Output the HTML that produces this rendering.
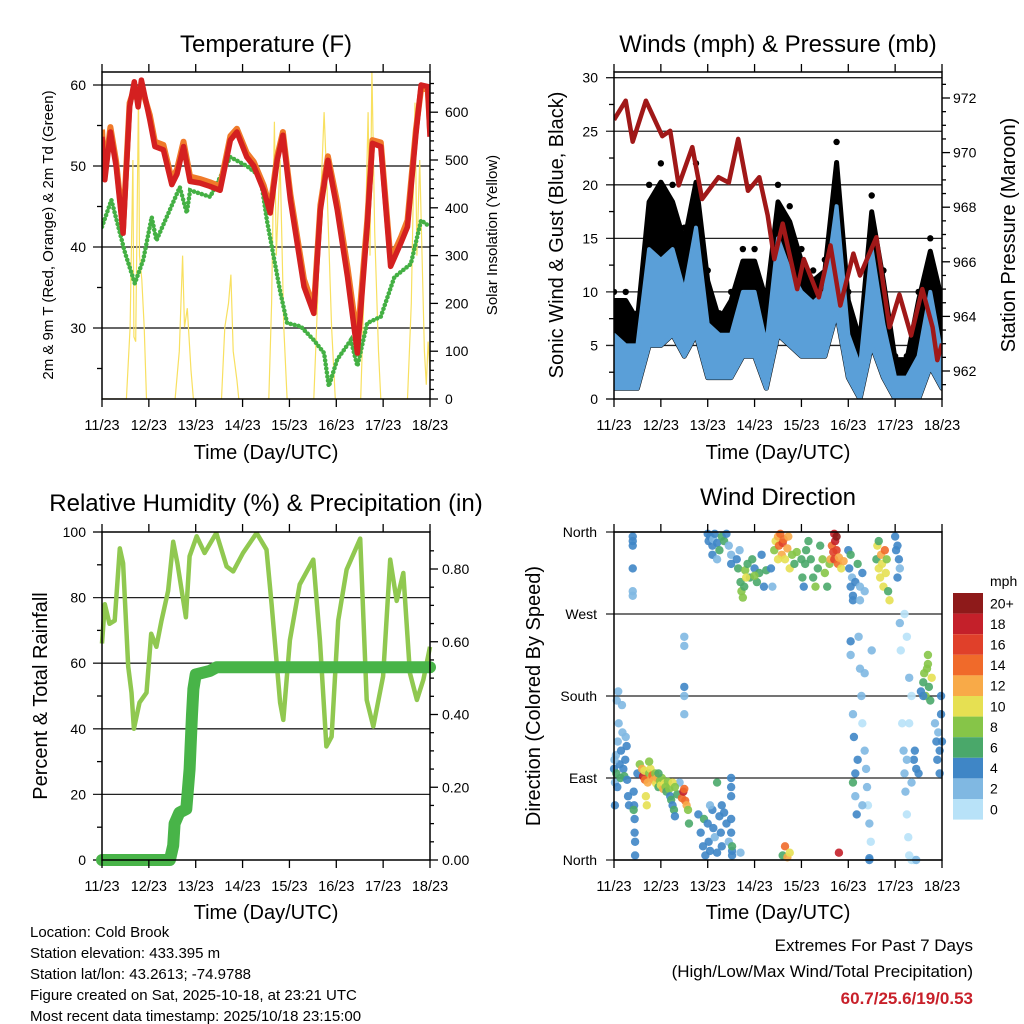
<!DOCTYPE html>
<html><head><meta charset="utf-8"><style>
html,body{margin:0;padding:0;background:#fff;}
svg{display:block;font-family:"Liberation Sans",Arial,sans-serif;}
</style></head><body>
<svg id="chart" width="1024" height="1024" viewBox="0 0 1024 1024" xmlns="http://www.w3.org/2000/svg">
<rect x="0" y="0" width="1024" height="1024" fill="#fff"/>
<text x="266" y="52" font-size="24" text-anchor="middle">Temperature (F)</text>
<text x="778" y="52" font-size="24" text-anchor="middle">Winds (mph) &amp; Pressure (mb)</text>
<text x="266" y="511" font-size="24" text-anchor="middle">Relative Humidity (%) &amp; Precipitation (in)</text>
<text x="778" y="505" font-size="24" text-anchor="middle">Wind Direction</text>
<text x="266" y="459" font-size="20" text-anchor="middle">Time (Day/UTC)</text>
<text x="778" y="459" font-size="20" text-anchor="middle">Time (Day/UTC)</text>
<text x="266" y="919" font-size="20" text-anchor="middle">Time (Day/UTC)</text>
<text x="778" y="919" font-size="20" text-anchor="middle">Time (Day/UTC)</text>
<text transform="translate(53,235) rotate(-90)" font-size="15" text-anchor="middle">2m &amp; 9m T (Red, Orange) &amp; 2m Td (Green)</text>
<text transform="translate(497,235) rotate(-90)" font-size="15" text-anchor="middle">Solar Insolation (Yellow)</text>
<text transform="translate(563,235) rotate(-90)" font-size="20" text-anchor="middle">Sonic Wind &amp; Gust (Blue, Black)</text>
<text transform="translate(1015,235) rotate(-90)" font-size="20" text-anchor="middle">Station Pressure (Maroon)</text>
<text transform="translate(47,696) rotate(-90)" font-size="20" text-anchor="middle">Percent &amp; Total Rainfall</text>
<text transform="translate(540,696) rotate(-90)" font-size="20" text-anchor="middle">Direction (Colored By Speed)</text>
<g font-size="15">
<text x="30" y="937">Location: Cold Brook</text>
<text x="30" y="958">Station elevation: 433.395 m</text>
<text x="30" y="979">Station lat/lon: 43.2613; -74.9788</text>
<text x="30" y="1000">Figure created on Sat, 2025-10-18, at 23:21 UTC</text>
<text x="30" y="1021">Most recent data timestamp: 2025/10/18 23:15:00</text>
</g>
<g font-size="17" text-anchor="end">
<text x="973" y="951">Extremes For Past 7 Days</text>
<text x="973" y="977">(High/Low/Max Wind/Total Precipitation)</text>
<text x="973" y="1004" fill="#c8202a" font-weight="bold">60.7/25.6/19/0.53</text>
</g>
</svg>
<script>
const NS='http://www.w3.org/2000/svg';
const svg=document.getElementById('chart');
// ---------- data ----------
const dayLabels=['11/23','12/23','13/23','14/23','15/23','16/23','17/23','18/23'];
const tempTicks=[30,40,50,60];
const solarTicks=[0,100,200,300,400,500,600];
const windTicks=[0,5,10,15,20,25,30];
const pressTicks=[962,964,966,968,970,972];
const rhTicks=[0,20,40,60,80,100];
const precipTicks=[0,0.2,0.4,0.6,0.8];
const dirLabels=['North','East','South','West','North'];
const dirTickDeg=[0,90,180,270,360];
const speedBins=['0','2','4','6','8','10','12','14','16','18','20+'];
const speedColors=['#b8e2f8','#80b8e2','#3f86c6','#4aa86a','#86c548','#e6e052','#f8aa48','#f06a2a','#e0402a','#c4202a','#8e1a1a'];

const tempTimes=[0,.06,.18,.3,.45,.59,.69,.77,.84,1.02,1.13,1.31,1.49,1.6,1.74,1.88,2.09,2.3,2.52,2.74,2.88,3.09,3.24,3.45,3.59,3.74,3.86,4.02,4.31,4.52,4.66,4.82,5.02,5.24,5.45,5.66,5.77,5.95,6.16,6.38,6.52,6.7,6.81,6.95,7.0];
const tempRed=[53.6,48.3,54.2,50,41.7,57.3,60.4,57.3,60.6,55.7,52.4,52,47.7,49,52.4,48.1,47.9,47.5,47,53.2,54.2,51.1,50,47,44.2,50.7,53.8,45.8,35.1,31.8,44.6,50.7,44.6,36.3,26.9,42.5,52.8,52.4,37.6,40.5,42.5,53.9,60,59.8,53.6];
const tempOrange=[54.5,49,54.8,50.6,42.3,57.8,59.5,57.9,59.8,56.3,53,52.6,48.3,49.6,53,48.7,48.4,48,47.5,53.7,54.6,51.6,50.5,47.6,44.8,51.2,54.2,46.5,36,32.5,45.2,51.2,45.5,37.5,28.5,43.2,53.2,52.9,38.4,41.2,43.3,54.5,59.5,59.5,54.5];
const dewTimes=[0,.2,.49,.7,.88,1.06,1.16,1.45,1.66,1.81,1.88,2.31,2.74,3.09,3.38,3.52,3.81,3.95,4.24,4.52,4.74,4.84,5.02,5.31,5.45,5.66,5.95,6.24,6.59,6.81,7.0];
const dewValues=[42.5,45.8,39.3,35.5,38.4,43.7,40.8,44.6,47.4,44.2,47,46.2,51.1,50,48.7,43.3,34.3,30.6,30.2,28.5,26.9,22.8,26.1,28.5,25.3,30.6,31.4,36.3,37.9,43.3,42.5];
const solarTimes=[0,.52,.6,.66,.68,.72,.78,.8,.85,.9,.95,1.56,1.65,1.72,1.76,1.82,1.9,1.95,2.55,2.62,2.7,2.75,2.8,2.88,2.92,3.56,3.62,3.68,3.72,3.8,3.88,3.95,4.52,4.6,4.68,4.74,4.8,4.9,4.98,5.52,5.6,5.68,5.72,5.76,5.82,5.9,5.95,6.52,6.6,6.68,6.72,6.78,6.88,6.92,6.96,7.0];
const solarValues=[0,0,150,500,130,120,640,300,250,150,0,0,100,300,150,190,60,0,0,150,200,260,100,40,0,0,200,580,300,500,150,0,0,200,450,600,450,150,0,0,250,600,300,690,350,100,0,0,200,620,300,500,100,30,120,60];

const windTimes=[0,.25,.5,.75,1,1.25,1.5,1.75,2,2.25,2.5,2.75,3,3.25,3.5,3.75,4,4.25,4.5,4.75,5,5.25,5.5,5.75,6,6.25,6.5,6.75,7];
const gustValues=[10,10,8,20,22,20,16,22,12,8,10,14,14,10,20,18,14,12,13,24,10,6,19,12,4,4,10,15,10];
const windMax=[6,5,5,14,13,14,10,16,7,6,6,10,10,5,15,12,10,9,10,18,6,3,14,7,2,2,4,10,4];
const windMin=[1,1,1,5,5,6,4,6,2,2,2,4,4,1,6,5,4,4,4,8,2,0,5,2,0,0,0,3,1];
const pressTimes=[0,.25,.4,.68,1.03,1.2,1.38,1.67,1.88,2.23,2.45,2.65,2.86,3.1,3.28,3.42,3.6,3.91,4.05,4.37,4.62,4.83,5.11,5.25,5.6,5.88,6.09,6.34,6.58,6.8,6.9,7.0];
const pressValues=[971.2,971.9,970.4,971.9,970.6,970.8,968.8,970.2,968.3,969.1,968.9,970.5,968.6,969.1,967.7,966.1,967.4,965,966.1,964.7,966.6,964.4,966.3,965.5,966.9,963.6,964.8,963.3,965,963.6,962.4,963];

const rhTimes=[0,.06,.16,.27,.38,.45,.56,.63,.68,.8,.95,1.05,1.16,1.27,1.41,1.52,1.61,1.79,1.87,2.02,2.19,2.44,2.66,2.8,3.01,3.3,3.51,3.62,3.8,3.87,4.01,4.22,4.51,4.65,4.79,4.9,5.04,5.22,5.51,5.65,5.79,6.0,6.15,6.29,6.43,6.57,6.72,6.86,7.0];
const rhValues=[66,78,72,73,95,90.5,59,51,40,48,51,69,65,73,82,97,90.5,74,92.6,98.7,93.6,99.7,89.5,88,93.6,99.7,94.6,78,48,42.7,67,84,91.6,67,34.6,37.6,73,88.5,98,48.8,40.7,56,91.6,79,87.5,57,48.8,55,65];
const precipTimes=[0,1.45,1.52,1.55,1.65,1.8,1.87,1.92,1.95,2.0,2.3,2.45,7.0];
const precipValues=[0,0,0.04,0.1,0.13,0.14,0.25,0.4,0.47,0.51,0.52,0.53,0.53];

const dirTimes=[
0,.02,.04,.05,.07,.08,.1,.12,.14,.15,.17,.18,.2,.22,.24,.25,.27,.28,.3,.32,.02,.01,.06,.09,
.4,.4,.4,.4,.4,.4,.42,.43,.44,.44,.45,.45,.42,
.5,.55,.6,.62,.65,.66,.68,.7,.72,.75,.78,.8,.82,.85,.88,.9,.92,.95,.98,1,1.02,1.05,1.08,1.1,1.12,1.15,1.18,1.2,1.22,1.25,1.28,1.3,1.35,1.4,1.45,1.48,1.5,1.52,1.55,1.58,1.6,1.25,1.3,.75,.95,
1.8,1.85,1.9,1.92,1.95,2,2.02,2.05,2.1,2.12,2.15,2.2,2.25,2.28,2.3,2.35,2.4,2.45,2.5,2.52,2.05,2.3,2.5,2.5,2.2,2.5,
2,2.02,2.05,2.1,2.12,2.15,2.2,2.25,2.3,2.35,2.4,2.45,2.5,2.5,2.1,2.2,
2.62,2.65,2.7,2.72,2.75,2.78,2.8,2.85,2.9,2.95,3,3.05,3.1,3.15,3.2,3.25,2.68,2.82,3,
3.42,3.45,3.5,3.52,3.55,3.58,3.6,3.62,3.65,3.7,3.72,3.75,3.8,3.85,3.9,3.5,3.35,3.38,
4,4.02,4.05,4.08,4.1,4.15,4.2,4.25,4.3,4.35,4.4,4.45,4.5,4.55,4.6,
4.62,4.65,4.68,4.7,4.72,4.75,4.78,4.8,4.85,4.9,4.7,4.75,
5,5.02,5.05,5.08,5.1,5.15,5.2,5.25,5.3,5.35,5.1,5.25,5.05,
5.6,5.62,5.65,5.68,5.7,5.72,5.75,5.78,5.8,5.82,5.85,5.88,5.65,
6,6.02,6.05,6.08,6.1,6.05,
5.05,5.05,5.1,5.12,5.15,5.15,5.18,5.22,5.25,5.3,5.35,5.38,5.4,5.42,5.45,5.48,5.5,5.35,5.28,5.45,5.2,5.3,5.1,
6.1,6.12,6.15,6.18,6.2,6.22,6.25,6.28,6.3,6.35,6.4,6.45,6.2,6.25,6.3,6.35,6.3,6.4,6.45,6.5,6.42,6.35,6.25,
6.55,6.6,6.62,6.65,6.68,6.7,6.72,6.75,6.78,6.7,6.6,
6.85,6.88,6.9,6.92,6.95,6.98,7,6.95,6.98,
2.5,2.52,2.52,2.7,3.6,3.65,3.7,3.75,4.8,5.45,
1.5,1.5,1.5,1.5,1.5];
const dirDegrees=[
100,85,115,95,80,130,150,105,90,120,170,140,100,92,110,135,125,88,70,60,60,110,175,185,
355,350,345,320,295,290,75,60,45,30,20,5,55,
95,105,100,92,98,88,70,60,85,95,100,90,93,88,95,84,90,80,87,82,90,78,84,80,75,86,78,70,66,60,55,48,72,85,68,75,78,65,60,55,40,85,80,108,95,
50,30,15,45,5,40,20,10,55,35,25,8,48,30,15,52,40,20,45,10,60,60,80,90,85,70,
358,350,355,345,352,358,348,340,355,350,358,345,335,325,335,330,
330,320,305,295,288,300,318,325,310,330,320,305,315,335,300,318,340,310,312,
340,350,355,345,358,335,348,352,330,342,355,320,335,325,338,330,320,300,
330,310,300,325,340,350,330,310,300,320,345,330,315,300,325,
330,345,338,330,350,340,325,332,320,328,358,355,
340,320,300,310,290,305,325,300,315,295,285,285,335,
330,345,320,310,335,325,300,340,315,330,295,285,350,
355,340,345,330,320,310,
240,225,160,135,95,70,50,245,210,150,120,100,80,60,40,20,230,205,180,0,110,60,85,
260,230,150,120,95,75,50,25,5,0,0,0,270,245,200,180,150,110,100,95,120,85,110,
185,195,205,180,210,215,190,175,200,225,180,
150,130,110,140,120,160,130,95,180,
30,15,5,8,5,15,3,8,8,2,
245,235,180,190,160];
const dirSpeeds=[
4,2,2,6,4,2,2,4,6,4,2,2,4,6,4,2,4,4,4,4,4,2,2,2,
4,4,4,4,2,2,4,4,4,4,4,4,6,
4,8,12,18,10,14,10,10,12,8,10,12,14,12,8,10,12,6,8,10,8,12,10,8,6,8,8,4,6,4,6,4,6,2,14,18,14,14,12,8,6,10,8,8,6,
4,4,4,6,4,4,4,4,4,4,2,4,4,4,4,4,4,2,4,4,2,4,4,4,6,4,
4,4,4,4,2,4,4,6,6,6,4,2,2,4,4,2,
4,6,6,8,8,6,8,6,6,6,4,6,6,4,4,6,2,10,8,
8,10,12,14,14,12,16,14,10,12,12,10,8,6,8,10,4,2,
6,6,4,6,6,6,6,6,8,6,6,8,8,6,8,
12,14,16,16,18,16,14,12,10,12,18,20,
4,4,4,2,4,4,6,2,4,2,4,2,6,
6,10,10,10,12,10,10,14,10,8,6,10,6,
4,4,4,4,2,4,
4,2,2,4,4,2,4,2,2,0,2,2,2,0,2,0,2,2,2,4,4,2,6,
2,0,0,2,2,2,0,0,0,0,0,2,0,0,2,0,0,4,4,4,4,2,2,
4,6,8,8,8,8,6,6,10,8,4,
2,4,4,2,4,4,4,4,4,
4,6,4,2,6,14,12,10,18,4,
2,2,2,4,2];

// ---------- helpers ----------
function mk(tag,parent){const e=document.createElementNS(NS,tag);(parent||svg).appendChild(e);return e;}
function txt(parent,x,y,s,anchor,size){const t=mk('text',parent);t.setAttribute('x',x);t.setAttribute('y',y);t.setAttribute('font-size',size||14);t.setAttribute('text-anchor',anchor||'middle');t.textContent=s;return t;}
function line(parent,x1,y1,x2,y2,c,w){const l=mk('line',parent);l.setAttribute('x1',x1);l.setAttribute('y1',y1);l.setAttribute('x2',x2);l.setAttribute('y2',y2);l.setAttribute('stroke',c||'#000');l.setAttribute('stroke-width',w||1.3);return l;}
function pts(xs,ys,fx,fy){return xs.map((t,i)=>fx(t).toFixed(1)+','+fy(ys[i]).toFixed(1)).join(' ');}
const DAY=328/7;
function xAxis(g,x0,yTop,yBot,labY){
  for(let d=0;d<=7;d++){const x=x0+d*DAY;line(g,x,yTop-8,x,yTop);line(g,x,yBot,x,yBot+8);
    const lab=txt(g,x,labY,dayLabels[d],'middle',14.5);
    
    }
}
function box(g,x0,y0,x1,y1){const r=mk('rect',g);r.setAttribute('x',x0);r.setAttribute('y',y0);r.setAttribute('width',x1-x0);r.setAttribute('height',y1-y0);r.setAttribute('fill','none');r.setAttribute('stroke','#000');r.setAttribute('stroke-width',1.5);return r;}

// ---------- Panel 1: temperature ----------
(function(){
const g=mk('g');


const xT=t=>102+t*DAY, yT=v=>85+(60-v)*8.1, yS=v=>399-v*0.478;
const clip=mk('clipPath',g);clip.setAttribute('id','c1');const cr=mk('rect',clip);cr.setAttribute('x',102);cr.setAttribute('y',72);cr.setAttribute('width',328);cr.setAttribute('height',327);
tempTicks.forEach(v=>{line(g,93,yT(v),430,yT(v),'#333',1.4);const l=txt(g,86,yT(v)+5,String(v),'end');});
[25,35,45,55].forEach(v=>line(g,97,yT(v),102,yT(v)));
solarTicks.forEach(v=>{line(g,430,yS(v),438,yS(v));const l=txt(g,445,yS(v)+5,String(v),'start');});
for(let v=20;v<680;v+=20){if(v%100)line(g,430,yS(v),434,yS(v));}
const dg=mk('g',g);dg.setAttribute('clip-path','url(#c1)');
const sol=mk('polyline',dg);


sol.setAttribute('points',pts(solarTimes,solarValues,xT,yS));sol.setAttribute('fill','none');sol.setAttribute('stroke','#f8e060');sol.setAttribute('stroke-width',1.2);
const dew=mk('polyline',dg);


dew.setAttribute('points',pts(dewTimes,dewValues,xT,yT));dew.setAttribute('fill','none');dew.setAttribute('stroke','#44b044');dew.setAttribute('stroke-width',4.5);dew.setAttribute('stroke-linecap','round');dew.setAttribute('stroke-dasharray','0.1 4');
const or=mk('polyline',dg);


or.setAttribute('points',pts(tempTimes,tempOrange,xT,yT));or.setAttribute('fill','none');or.setAttribute('stroke','#f07a2a');or.setAttribute('stroke-width',6);or.setAttribute('stroke-linejoin','round');
const rd=mk('polyline',dg);


rd.setAttribute('points',pts(tempTimes,tempRed,xT,yT));rd.setAttribute('fill','none');rd.setAttribute('stroke','#d42020');rd.setAttribute('stroke-width',5.5);rd.setAttribute('stroke-linejoin','round');
box(g,102,72,430,399);
xAxis(g,102,72,399,430);
})();

// ---------- Panel 2: winds ----------
(function(){
const g=mk('g');


const xW=t=>614+t*DAY, yW=v=>399-v*10.71, yP=p=>98+(972-p)*27.3;
const clip=mk('clipPath',g);clip.setAttribute('id','c2');const cr=mk('rect',clip);cr.setAttribute('x',614);cr.setAttribute('y',72);cr.setAttribute('width',328);cr.setAttribute('height',327);
windTicks.forEach(v=>{if(v>0)line(g,606,yW(v),942,yW(v),'#222',1.3);else line(g,606,yW(v),614,yW(v));const l=txt(g,598,yW(v)+5,String(v),'end');});
for(let v=2.5;v<30;v+=5)line(g,609,yW(v),614,yW(v));
pressTicks.forEach(p=>{line(g,942,yP(p),950,yP(p));const l=txt(g,953,yP(p)+5,String(p),'start');});
for(let p=961.5;p<973;p+=0.5){if(p%2)line(g,942,yP(p),946,yP(p));}
const dg=mk('g',g);dg.setAttribute('clip-path','url(#c2)');
const gustArea=mk('polygon',dg);


gustArea.setAttribute('points',pts(windTimes,gustValues.map(v=>v*0.92),xW,yW)+' '+pts(windTimes.slice().reverse(),windMin.slice().reverse(),xW,yW));
gustArea.setAttribute('fill','#000');gustArea.setAttribute('stroke','#000');gustArea.setAttribute('stroke-width',5);gustArea.setAttribute('stroke-linejoin','round');
windTimes.forEach((t,i)=>{
  const c=mk('circle',dg);
  
  
  c.setAttribute('cx',xW(t));c.setAttribute('cy',yW(gustValues[i]));c.setAttribute('r',3.2);c.setAttribute('fill','#000');
});
const blue=mk('polygon',dg);


blue.setAttribute('points',pts(windTimes,windMax,xW,yW)+' '+pts(windTimes.slice().reverse(),windMin.slice().reverse(),xW,yW));
blue.setAttribute('fill','#5a9fd8');blue.setAttribute('stroke','#5a9fd8');blue.setAttribute('stroke-width',4);blue.setAttribute('stroke-linejoin','round');
const pr=mk('polyline',dg);


pr.setAttribute('points',pts(pressTimes,pressValues,xW,yP));pr.setAttribute('fill','none');pr.setAttribute('stroke','#a01818');pr.setAttribute('stroke-width',4.5);pr.setAttribute('stroke-linejoin','round');
box(g,614,72,942,399);
xAxis(g,614,72,399,430);
})();

// ---------- Panel 3: humidity ----------
(function(){
const g=mk('g');


const xR=t=>102+t*DAY, yR=v=>860-v*3.28, yPr=v=>860-v*363.75;
const clip=mk('clipPath',g);clip.setAttribute('id','c3');const cr=mk('rect',clip);cr.setAttribute('x',96);cr.setAttribute('y',532);cr.setAttribute('width',342);cr.setAttribute('height',334);
rhTicks.forEach(v=>{if(v>0&&v<100)line(g,93,yR(v),430,yR(v),'#222',1.3);else line(g,93,yR(v),102,yR(v));const l=txt(g,86,yR(v)+5,String(v),'end');});
for(let v=10;v<100;v+=20)line(g,97,yR(v),102,yR(v));
precipTicks.forEach(v=>{line(g,430,yPr(v),438,yPr(v));const l=txt(g,442,yPr(v)+5,v.toFixed(2),'start');});
for(let v=0.05;v<0.9;v+=0.05){if(Math.round(v*100)%20)line(g,430,yPr(v),434,yPr(v));}
const dg=mk('g',g);dg.setAttribute('clip-path','url(#c3)');
const rh=mk('polyline',dg);


rh.setAttribute('points',pts(rhTimes,rhValues,xR,yR));rh.setAttribute('fill','none');rh.setAttribute('stroke','#90c850');rh.setAttribute('stroke-width',4.5);rh.setAttribute('stroke-linejoin','round');
const pc=mk('polyline',dg);


pc.setAttribute('points',pts(precipTimes,precipValues,xR,yPr));pc.setAttribute('fill','none');pc.setAttribute('stroke','#48b448');pc.setAttribute('stroke-width',12);pc.setAttribute('stroke-linejoin','round');pc.setAttribute('stroke-linecap','round');
box(g,102,532,430,860);
xAxis(g,102,532,860,891);
})();

// ---------- Panel 4: wind direction ----------
(function(){
const g=mk('g');


const xD=t=>614+t*DAY, yD=d=>860-d*328/360;
const clip=mk('clipPath',g);clip.setAttribute('id','c4');const cr=mk('rect',clip);cr.setAttribute('x',609);cr.setAttribute('y',527);cr.setAttribute('width',338);cr.setAttribute('height',338);
dirTickDeg.forEach((d,i)=>{line(g,606,yD(d),942,yD(d),'#222',1.3);const l=txt(g,597,yD(d)+5,dirLabels[i],'end');});
const dg=mk('g',g);dg.setAttribute('clip-path','url(#c4)');
dirTimes.forEach((t,i)=>{
  const s=dirSpeeds[i];const bi=Math.min(10,Math.floor(s/2));
  const c=mk('circle',dg);
  
  
  c.setAttribute('cx',xD(t));c.setAttribute('cy',yD(dirDegrees[i]));c.setAttribute('r',4.2);c.setAttribute('fill',speedColors[bi]);c.setAttribute('fill-opacity',0.9);
});
box(g,614,532,942,860);
xAxis(g,614,532,860,891);
// colorbar
const cb=mk('g');


const mt=txt(cb,990,586,'mph','start',14);


const bh=20.6;
speedBins.forEach((lab,i)=>{
  const k=10-i;const y=593+i*bh;
  const r=mk('rect',cb);
  
  
  r.setAttribute('x',953);r.setAttribute('y',y);r.setAttribute('width',30);r.setAttribute('height',bh);r.setAttribute('fill',speedColors[k]);
  const l=txt(cb,990,y+bh/2+5,speedBins[k],'start',14);
  
  
});
})();
</script>
</body></html>
